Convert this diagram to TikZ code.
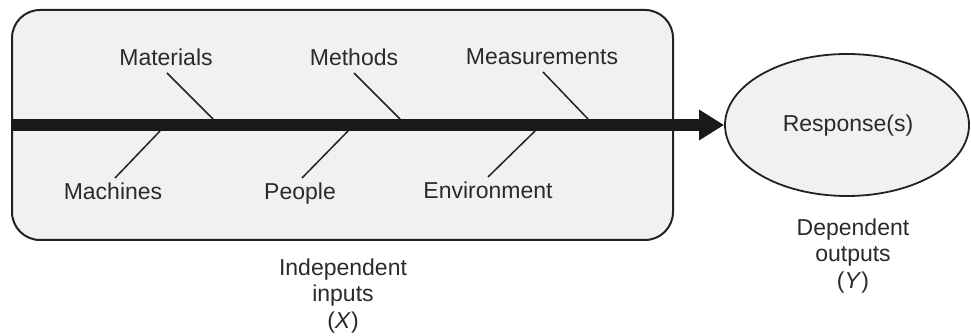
\documentclass[tikz,border=0pt]{standalone}
\usepackage{fontspec}
\setmainfont{Liberation Sans}
\usetikzlibrary{shapes.geometric,arrows.meta}
\definecolor{boxfill}{HTML}{F1F1F2}
\definecolor{txt}{HTML}{2A2A2A}
\definecolor{edge}{HTML}{222222}
\tikzset{
  lbl/.style={font=\fontsize{23}{26}\selectfont, text=txt, inner sep=0pt, anchor=base},
  sub/.style={font=\fontsize{23}{26.5}\selectfont, text=txt, align=center, inner sep=0pt},
  bone/.style={draw=edge, line width=1.5pt},
  spine/.style={draw=black!90, line width=12pt, -{Triangle[length=25pt,width=29pt]}},
  bigbox/.style={draw=edge, line width=2pt, fill=boxfill, rounded corners=28pt, minimum width=661pt, minimum height=230pt, inner sep=0pt},
  resp/.style={ellipse, draw=edge, line width=1.8pt, fill=boxfill, minimum width=244pt, minimum height=142pt, inner sep=0pt}
}
\begin{document}
\begin{tikzpicture}[x=1pt,y=-1pt]
\useasboundingbox (0,0) rectangle (971,336);
\fill[white] (0,0) rectangle (971,336);
\node[bigbox] (box) at (342.5,125) {};
\node[resp] (out) at (847,125) {};
\node[lbl] (rtext) at (848,132) {Response(s)};
\draw[spine] (box.west) -- (out.west);
% labels
\node[lbl] (mat) at (166,66) {Materials};
\node[lbl] (met) at (354,66) {Methods};
\node[lbl] (mea) at (542,65) {Measurements};
\node[lbl] (mac) at (113,200) {Machines};
\node[lbl] (peo) at (300,200) {People};
\node[lbl] (env) at (488,199) {Environment};
% bone end points
\coordinate (mat1) at (167,73);  \coordinate (mat2) at (213,119);
\coordinate (met1) at (354,73);  \coordinate (met2) at (400,119);
\coordinate (mea1) at (543,72);  \coordinate (mea2) at (588,119);
\coordinate (mac1) at (115,178); \coordinate (mac2) at (160,131);
\coordinate (peo1) at (302,178); \coordinate (peo2) at (348,131);
\coordinate (env1) at (488,177); \coordinate (env2) at (535,131);
\draw[bone] (mat1) -- (mat2);
\draw[bone] (met1) -- (met2);
\draw[bone] (mea1) -- (mea2);
\draw[bone] (mac1) -- (mac2);
\draw[bone] (peo1) -- (peo2);
\draw[bone] (env1) -- (env2);
% captions
\node[sub] (xin) at (343,296) {Independent\\inputs\\(\textit{X})};
\node[sub] (yout) at (853,256) {Dependent\\outputs\\(\textit{Y})};
\end{tikzpicture}
\end{document}
